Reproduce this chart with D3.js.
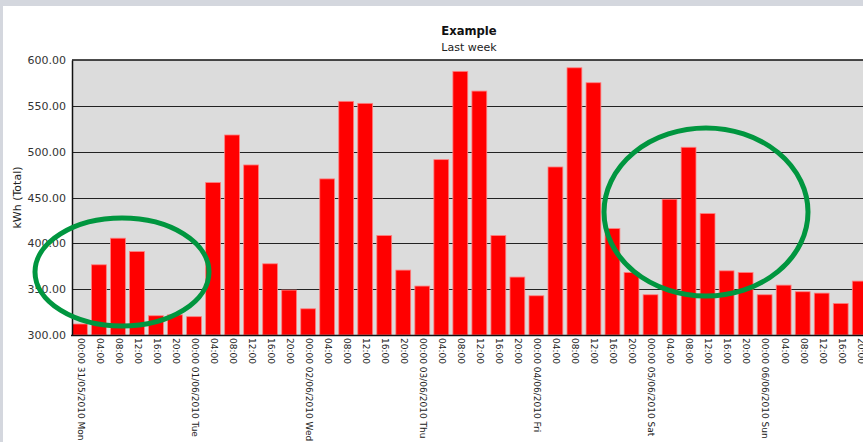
<!DOCTYPE html>
<html>
<head>
<meta charset="utf-8">
<script src="https://cdn.jsdelivr.net/npm/d3@7"></script>
<style>
  html, body { margin: 0; padding: 0; background: #d4d7de; }
  svg { display: block; }
  text { font-family: "DejaVu Sans", Verdana, sans-serif; }
</style>
</head>
<body>
<svg id="chart" width="863" height="442"></svg>
<script>
// ---- data ----
const title = "Example";
const subtitle = "Last week";
const yAxisTitle = "kWh (Total)";
const days = ["31/05/2010 Mon", "01/06/2010 Tue", "02/06/2010 Wed", "03/06/2010 Thu",
              "04/06/2010 Fri", "05/06/2010 Sat", "06/06/2010 Sun"];
const hours = ["00:00", "04:00", "08:00", "12:00", "16:00", "20:00"];
const values = [
  312, 376.6, 405.6, 391, 321, 322,
  320, 466.3, 518.2, 485.5, 377.7, 349,
  328.6, 470.3, 554.9, 552.7, 408.5, 370.8,
  353.4, 491.3, 587.6, 566.1, 408.5, 363.2,
  342.8, 483.3, 591.5, 575.2, 416.1, 368.2,
  343.9, 448.1, 504.8, 432.5, 370, 368.2,
  343.9, 354.4, 347.2, 345.7, 334.4, 358.8
];
const yTicks = [300, 350, 400, 450, 500, 550, 600];

// category labels built from days x hours
const categories = [];
days.forEach(d => hours.forEach(h => categories.push(h === "00:00" ? h + " " + d : h)));

// ---- layout ----
const W = 863, H = 442;
const svg = d3.select("#chart");
const plotL = 72, plotT = 60, plotB = 335, plotR = 868;

// white panel
svg.append("rect").attr("x", 3).attr("y", 6).attr("width", W - 3).attr("height", H - 6).attr("fill", "#ffffff");

const idx = d3.range(categories.length);
const x = d3.scaleBand().domain(idx).range([72.5, 72.5 + 19.02 * (42 - 0.22)])
  .paddingInner(0.22).paddingOuter(0);
const y = d3.scaleLinear().domain([300, 600]).range([plotB, plotT]);

// plot background
svg.append("rect").attr("x", plotL).attr("y", plotT).attr("width", plotR - plotL).attr("height", plotB - plotT)
  .attr("fill", "#dcdcdc");

// gridlines
svg.append("g").selectAll("line").data(yTicks.filter(t => t > 300 && t < 600)).join("line")
  .attr("x1", plotL).attr("x2", plotR)
  .attr("y1", d => Math.round(y(d)) + 0.5).attr("y2", d => Math.round(y(d)) + 0.5)
  .attr("stroke", "#222").attr("stroke-width", 1);
// top border
svg.append("line").attr("x1", plotL).attr("x2", plotR).attr("y1", y(600)).attr("y2", y(600))
  .attr("stroke", "#111").attr("stroke-width", 1.6);

// bars
svg.append("g").selectAll("rect").data(values).join("rect")
  .attr("x", (d, i) => x(i))
  .attr("width", x.bandwidth())
  .attr("y", d => y(d))
  .attr("height", d => y(300) - y(d))
  .attr("fill", "#ff0000")
  .attr("stroke", "#ff8080")
  .attr("stroke-width", 0.8);

// y axis
const yAxis = d3.axisLeft(y).tickValues(yTicks).tickFormat(d3.format(".2f")).tickSize(0).tickPadding(6);
const gy = svg.append("g").attr("transform", `translate(${plotL},0)`).call(yAxis);
gy.select(".domain").attr("stroke", "#111").attr("stroke-width", 1.5);
gy.selectAll("text").attr("font-size", 11).attr("fill", "#333").attr("font-family", "DejaVu Sans, sans-serif");

// x axis
const xAxis = d3.axisBottom(x).tickSize(0).tickPadding(0).tickFormat(i => categories[i]);
const gx = svg.append("g").attr("transform", `translate(0,${plotB})`).call(xAxis);
gx.select(".domain").remove();
svg.append("line").attr("x1", plotL - 1).attr("x2", plotR).attr("y1", plotB + 0.5).attr("y2", plotB + 0.5)
  .attr("stroke", "#111").attr("stroke-width", 1.6);
gx.selectAll(".tick text")
  .attr("font-size", 9).attr("fill", "#222").attr("font-family", "DejaVu Sans, sans-serif")
  .attr("text-anchor", "start")
  .attr("dy", "0.35em")
  .attr("transform", "translate(1,3) rotate(90)")
  .attr("y", 0).attr("x", 0);

// titles
svg.append("text").attr("x", 469).attr("y", 35).attr("text-anchor", "middle")
  .attr("font-size", 11.6).attr("font-weight", "bold").attr("fill", "#111").text(title);
svg.append("text").attr("x", 469).attr("y", 51).attr("text-anchor", "middle")
  .attr("font-size", 11).attr("fill", "#222").text(subtitle);
svg.append("text").attr("transform", `translate(21,${(plotT + plotB) / 2}) rotate(-90)`)
  .attr("text-anchor", "middle").attr("font-size", 11).attr("fill", "#222").text(yAxisTitle);

// annotation ellipses
svg.append("ellipse").attr("cx", 122).attr("cy", 272).attr("rx", 87).attr("ry", 54)
  .attr("fill", "none").attr("stroke", "#00963f").attr("stroke-width", 5);
svg.append("ellipse").attr("cx", 706).attr("cy", 212).attr("rx", 102).attr("ry", 84)
  .attr("fill", "none").attr("stroke", "#00963f").attr("stroke-width", 5);
</script>
</body>
</html>
